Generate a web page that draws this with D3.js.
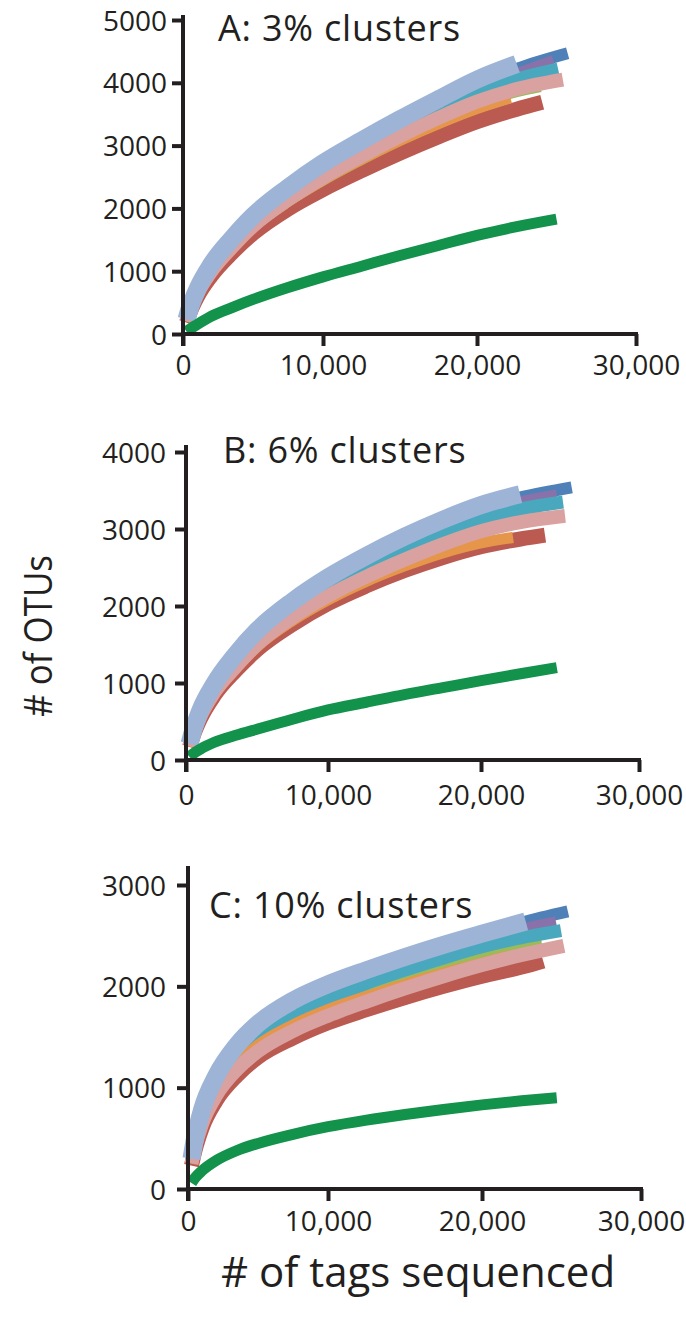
<!DOCTYPE html>
<html>
<head>
<meta charset="utf-8">
<script src="https://cdn.jsdelivr.net/npm/d3@7"></script>
<style>
  html, body { margin: 0; padding: 0; background: #fff; }
  svg { display: block; }
  text { font-family: "Open Sans", "DejaVu Sans", sans-serif; fill: #231f20; }
</style>
</head>
<body>
<svg id="chart" width="686" height="1321"></svg>
<script>
// ---------------- DATA ----------------
const xTickValues = [0, 10000, 20000, 30000];
const yTicksA = [0, 1000, 2000, 3000, 4000, 5000];
const yTicksB = [0, 1000, 2000, 3000, 4000];
const yTicksC = [0, 1000, 2000, 3000];
const panelTitles = ["A: 3% clusters", "B: 6% clusters", "C: 10% clusters"];
const yAxisTitle = "# of OTUs";
const xAxisTitle = "# of tags sequenced";

// rarefaction sampling depths (tags)
const gridTags = [250, 500, 1000, 2000, 3500, 5000, 7500, 10000, 12500, 15000, 17500, 20000, 22500];

// series, in drawing order
const seriesKeys = ["red", "darkBlue", "purple", "lightGreen", "teal", "orange", "pink", "lightBlue", "green"];

// Panel A: 3% clusters (OTUs at gridTags, then final point [tags, OTUs])
const otusA = [
  [180, 340, 580, 920, 1290, 1600, 1990, 2300, 2600, 2880, 3140, 3380, 3580],
  [220, 400, 680, 1070, 1480, 1840, 2280, 2660, 3010, 3340, 3650, 3950, 4220],
  [220, 400, 680, 1060, 1470, 1830, 2260, 2640, 2980, 3300, 3600, 3890, 4150],
  [200, 370, 630, 980, 1360, 1690, 2100, 2440, 2770, 3080, 3370, 3640, 3850],
  [220, 400, 670, 1040, 1450, 1800, 2220, 2590, 2950, 3280, 3580, 3850, 4060],
  [200, 370, 630, 990, 1370, 1700, 2110, 2450, 2780, 3080, 3350, 3590],
  [200, 370, 630, 990, 1380, 1720, 2140, 2490, 2830, 3150, 3440, 3700, 3900],
  [230, 420, 700, 1100, 1520, 1880, 2330, 2720, 3080, 3420, 3740, 4050],
  [40, 80, 150, 280, 420, 550, 740, 910, 1080, 1250, 1410, 1570, 1710]
];
const endA = [[24100, 3690], [25700, 4470], [24800, 4360], [24000, 3930], [25100, 4220],
              [22100, 3760], [25400, 4050], [22500, 4300], [25000, 1830]];

// Panel B: 6% clusters
const otusB = [
  [170, 310, 530, 840, 1160, 1430, 1760, 2030, 2260, 2460, 2630, 2770, 2870],
  [200, 370, 620, 960, 1330, 1640, 2020, 2330, 2610, 2860, 3080, 3280, 3410],
  [200, 370, 610, 950, 1310, 1620, 2000, 2300, 2570, 2810, 3030, 3220, 3360],
  [180, 340, 570, 890, 1230, 1520, 1870, 2160, 2420, 2640, 2840, 3010, 3140],
  [190, 350, 590, 920, 1270, 1570, 1940, 2240, 2500, 2740, 2950, 3130, 3260],
  [175, 320, 550, 860, 1190, 1470, 1810, 2080, 2320, 2520, 2690, 2820],
  [180, 330, 560, 880, 1210, 1500, 1850, 2130, 2380, 2600, 2800, 2970, 3090],
  [210, 380, 640, 990, 1370, 1680, 2060, 2370, 2650, 2900, 3120, 3310],
  [40, 80, 140, 230, 320, 400, 530, 650, 750, 850, 940, 1030, 1120]
];
const endB = [[24050, 2920], [25740, 3540], [24790, 3450], [23800, 3190], [25190, 3350],
              [22030, 2890], [25320, 3170], [22470, 3450], [24800, 1200]];

// Panel C: 10% clusters
const otusC = [
  [230, 380, 600, 870, 1120, 1300, 1490, 1640, 1770, 1890, 2000, 2100, 2190],
  [290, 480, 750, 1070, 1370, 1580, 1810, 1980, 2130, 2270, 2400, 2520, 2630],
  [290, 480, 740, 1060, 1360, 1570, 1790, 1960, 2110, 2240, 2360, 2470, 2570],
  [270, 440, 690, 990, 1270, 1460, 1670, 1830, 1970, 2100, 2220, 2320, 2410],
  [280, 460, 710, 1020, 1300, 1500, 1720, 1880, 2030, 2160, 2280, 2390, 2480],
  [260, 430, 670, 960, 1230, 1420, 1620, 1770, 1900, 2020, 2130, 2230],
  [250, 410, 640, 920, 1180, 1360, 1560, 1710, 1850, 1980, 2100, 2210, 2310],
  [300, 500, 780, 1110, 1420, 1630, 1860, 2020, 2160, 2290, 2410, 2520],
  [60, 110, 180, 280, 380, 450, 540, 615, 680, 735, 785, 830, 870]
];
const endC = [[23850, 2250], [25400, 2740], [24650, 2640], [23750, 2440], [24970, 2550],
              [21640, 2300], [25150, 2400], [22750, 2640], [24700, 900]];

// ---------------- STYLE / LAYOUT ----------------
const colors = {
  red: "#bb5a50", darkBlue: "#4f81b8", purple: "#8872a9", lightGreen: "#9bbb59",
  teal: "#4aa8be", orange: "#e5964a", pink: "#d9a19f", lightBlue: "#9db4d6", green: "#12924a"
};
const widths = {
  red: 15, darkBlue: 12, purple: 10, lightGreen: 10, teal: 13, orange: 11, pink: 14, lightBlue: 18, green: 11
};
const ink = "#231f20";

const panels = [
  { title: panelTitles[0], otus: otusA, ends: endA, yTicks: yTicksA,
    xPix: [183, 323, 477, 636], yDom: [0, 5000], yPix: [334, 20], yTop: 15,
    titleX: 218, titleY: 41, yLabelX: 167, xLabelOff: 9 },
  { title: panelTitles[1], otus: otusB, ends: endB, yTicks: yTicksB,
    xPix: [186, 328, 481, 639], yDom: [0, 4000], yPix: [760, 452], yTop: 445,
    titleX: 223, titleY: 463, yLabelX: 166, xLabelOff: 13 },
  { title: panelTitles[2], otus: otusC, ends: endC, yTicks: yTicksC,
    xPix: [188, 328, 482, 641], yDom: [0, 3000], yPix: [1189, 885], yTop: 866,
    titleX: 209, titleY: 918, yLabelX: 166, xLabelOff: 10 }
];

const svg = d3.select("#chart");

panels.forEach(p => {
  const x = d3.scaleLinear().domain(xTickValues).range(p.xPix);
  const y = d3.scaleLinear().domain(p.yDom).range(p.yPix);
  const g = svg.append("g");

  // curves
  const line = d3.line().x(d => x(d[0])).y(d => y(d[1])).curve(d3.curveMonotoneX);
  seriesKeys.forEach((k, i) => {
    const pts = p.otus[i].map((v, j) => [gridTags[j], v]);
    pts.push(p.ends[i]);
    g.append("path")
      .datum(pts)
      .attr("d", line)
      .attr("fill", "none")
      .attr("stroke", colors[k])
      .attr("stroke-width", widths[k])
      .attr("stroke-linecap", "butt")
      .attr("stroke-linejoin", "round");
  });

  // y axis
  const yAxis = d3.axisLeft(y).tickValues(p.yTicks).tickSize(11).tickSizeOuter(0)
    .tickFormat(d3.format("d"));
  const ya = g.append("g").attr("transform", `translate(${p.xPix[0]},0)`).call(yAxis);
  ya.select(".domain").remove();
  ya.selectAll(".tick line").attr("stroke", ink).attr("stroke-width", 4);
  ya.selectAll(".tick text")
    .attr("x", p.yLabelX - p.xPix[0])
    .attr("dy", "0.36em")
    .style("font-size", "28px")
    .style("font-family", '"Open Sans", sans-serif')
    .attr("fill", ink);
  g.append("line")
    .attr("x1", p.xPix[0]).attr("x2", p.xPix[0])
    .attr("y1", p.yTop).attr("y2", y(0) + 12)
    .attr("stroke", ink).attr("stroke-width", 4);

  // x axis
  const xAxis = d3.axisBottom(x).tickValues(xTickValues).tickSize(12).tickSizeOuter(0)
    .tickPadding(p.xLabelOff).tickFormat(d3.format(","));
  const xa = g.append("g").attr("transform", `translate(0,${y(0)})`).call(xAxis);
  xa.select(".domain").remove();
  xa.selectAll(".tick line").attr("stroke", ink).attr("stroke-width", 4);
  xa.selectAll(".tick text")
    .style("font-size", "28px")
    .style("font-family", '"Open Sans", sans-serif')
    .attr("fill", ink);
  g.append("line")
    .attr("x1", p.xPix[0] - 2).attr("x2", x(30000) + 2)
    .attr("y1", y(0)).attr("y2", y(0))
    .attr("stroke", ink).attr("stroke-width", 4);

  // title
  g.append("text")
    .attr("x", p.titleX).attr("y", p.titleY)
    .style("font-size", "36px")
    .style("letter-spacing", "0.8px")
    .text(p.title);
});

// axis titles
svg.append("text")
  .attr("transform", "translate(52,636) rotate(-90)")
  .attr("text-anchor", "middle")
  .attr("textLength", 162)
  .attr("lengthAdjust", "spacingAndGlyphs")
  .style("font-size", "38px")
  .text(yAxisTitle);

svg.append("text")
  .attr("x", 418).attr("y", 1287)
  .attr("text-anchor", "middle")
  .style("font-size", "42px")
  .text(xAxisTitle);
</script>
</body>
</html>
